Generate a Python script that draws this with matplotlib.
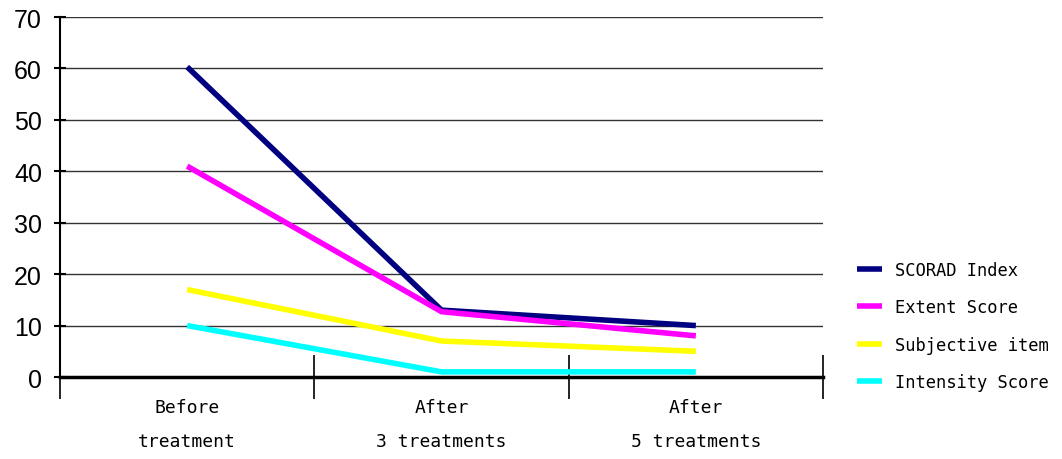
import matplotlib
matplotlib.use("Agg")
import matplotlib.pyplot as plt
from matplotlib.ticker import FixedLocator, NullFormatter

categories = ["Before\ntreatment", "After\n3 treatments", "After\n5 treatments"]
series_names = ["SCORAD Index", "Extent Score", "Subjective item", "Intensity Score"]
scorad = [60.3, 13.0, 10.0]
extent = [41.0, 12.7, 8.0]
subjective = [17.0, 7.0, 5.0]
intensity = [10.0, 1.0, 1.0]
colors = ["#000080", "#FF00FF", "#FFFF00", "#00FFFF"]
y_ticks = [0, 10, 20, 30, 40, 50, 60, 70]

fig = plt.figure(figsize=(10.62, 4.6), dpi=100)
ax = fig.add_axes([60/1062, 1-378/460, (823-60)/1062, 360/460])

x = list(range(len(categories)))
for vals, name, c in zip([scorad, extent, subjective, intensity], series_names, colors):
    ax.plot(x, vals, color=c, lw=4, label=name, solid_capstyle="butt", solid_joinstyle="miter")

ax.set_xlim(-0.5, 2.5)
ax.set_ylim(0, 70)
ax.set_yticks(y_ticks)
ax.yaxis.grid(True, color="#333333", lw=1)
ax.set_axisbelow(True)
for s in ["top", "right"]:
    ax.spines[s].set_visible(False)
ax.spines["bottom"].set_linewidth(2.5)
ax.spines["left"].set_linewidth(1.5)

ax.tick_params(axis="y", direction="inout", length=8, width=1.5, labelsize=18, pad=9)
for lab in ax.get_yticklabels():
    lab.set_family("Liberation Sans")

ax.xaxis.set_major_locator(FixedLocator([-0.5, 0.5, 1.5, 2.5]))
ax.xaxis.set_major_formatter(NullFormatter())
ax.xaxis.set_minor_locator(FixedLocator(x))
ax.set_xticks(x, categories, minor=True)
ax.tick_params(axis="x", which="major", direction="inout", length=32, width=1.2)
ax.tick_params(axis="x", which="minor", length=0, pad=15, labelsize=13)
for lab in ax.get_xticklabels(minor=True):
    lab.set_family("DejaVu Sans Mono")
    lab.set_linespacing(2.15)
    lab.set_va("top")

ax.legend(loc="center left", frameon=False, handlelength=1.45, labelspacing=1.15,
          handletextpad=0.8, prop={"family": "DejaVu Sans Mono", "size": 12.3},
          borderaxespad=0)
leg = ax.get_legend()
leg.set_bbox_to_anchor((850/1062, 1-327/460), transform=fig.transFigure)

fig.savefig("out.png", dpi=100)
